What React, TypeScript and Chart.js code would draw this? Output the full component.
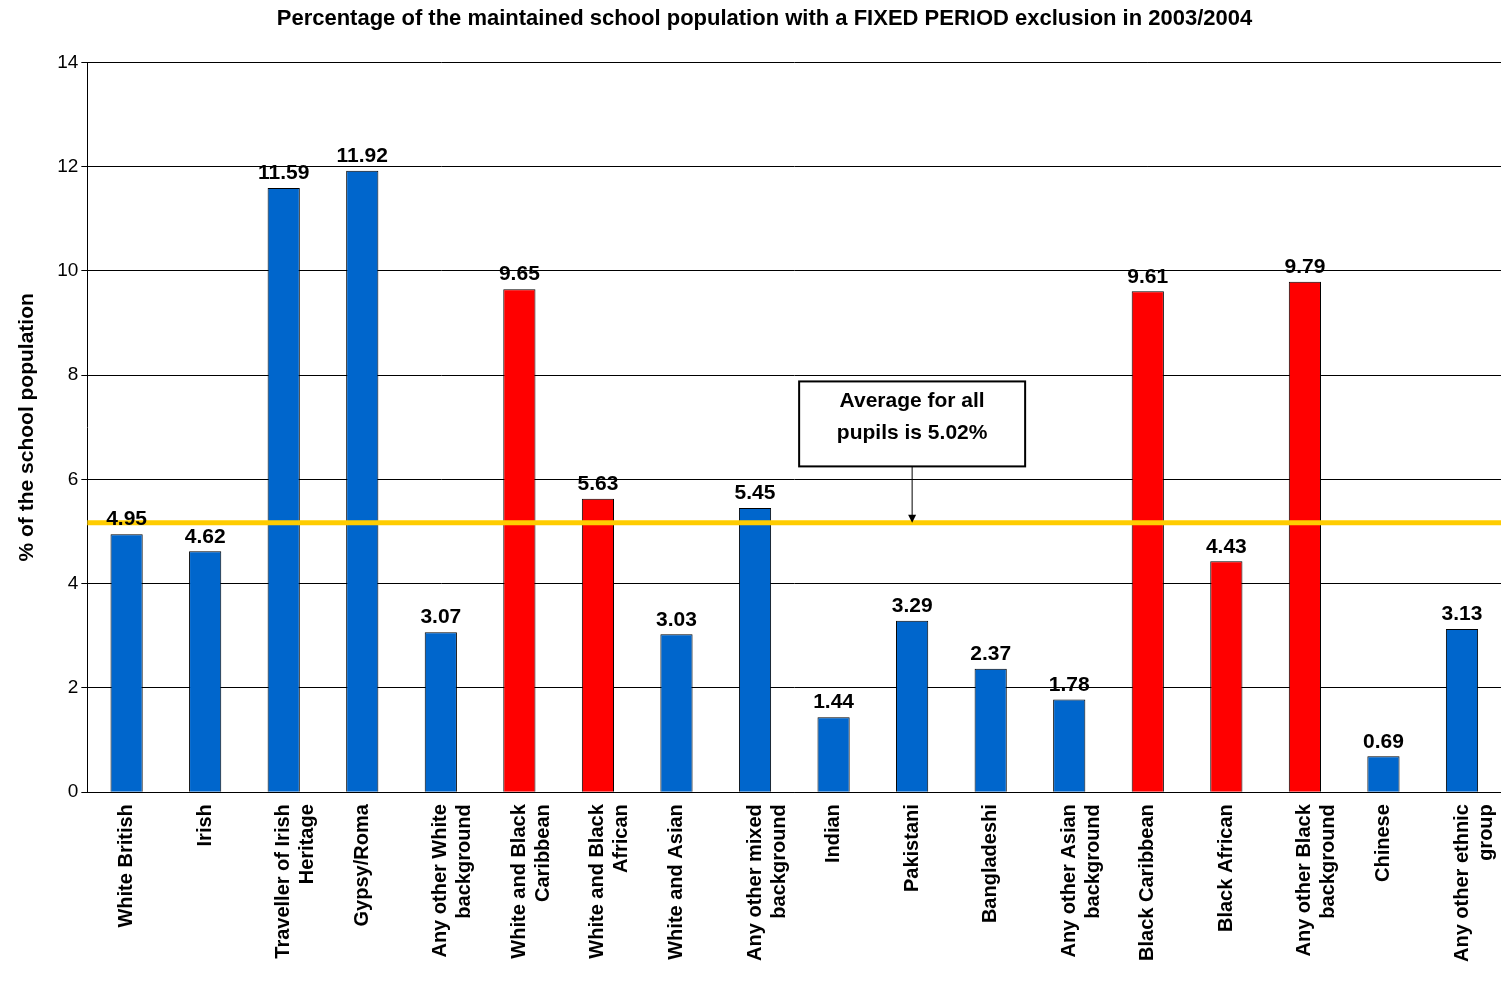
import { useEffect, useRef } from "react";
import { Chart, registerables } from "chart.js";

Chart.register(...registerables);

const categories: (string | string[])[] = [
  "White British",
  "Irish",
  ["Traveller of Irish", "Heritage"],
  "Gypsy/Roma",
  ["Any other White", "background"],
  ["White and Black", "Caribbean"],
  ["White and Black", "African"],
  "White and Asian",
  ["Any other mixed", "background"],
  "Indian",
  "Pakistani",
  "Bangladeshi",
  ["Any other Asian", "background"],
  "Black Caribbean",
  "Black African",
  ["Any other Black", "background"],
  "Chinese",
  ["Any other ethnic", "group"],
];
const values = [4.95, 4.62, 11.59, 11.92, 3.07, 9.65, 5.63, 3.03, 5.45, 1.44, 3.29, 2.37, 1.78, 9.61, 4.43, 9.79, 0.69, 3.13];
const highlighted = [5, 6, 13, 14, 15];
const averageLine = 5.17;
const noteLines = ["Average for all", "pupils is 5.02%"];

const FONT = "Arial, 'Liberation Sans', sans-serif";

const overlay = {
  id: "overlay",
  afterDatasetsDraw(chart: Chart) {
    const { ctx, chartArea, scales } = chart;
    const x = scales.x, y = scales.y;
    ctx.save();
    // average line
    const ly = y.getPixelForValue(averageLine);
    ctx.strokeStyle = "#FFCC00";
    ctx.lineWidth = 5;
    ctx.beginPath();
    ctx.moveTo(chartArea.left, ly);
    ctx.lineTo(chartArea.right, ly);
    ctx.stroke();
    // value labels
    ctx.fillStyle = "#000";
    ctx.font = `bold 21px ${FONT}`;
    ctx.textAlign = "center";
    ctx.textBaseline = "bottom";
    const meta = chart.getDatasetMeta(0);
    meta.data.forEach((bar: any, i: number) => {
      ctx.fillText(values[i].toFixed(2), bar.x, bar.y - 4);
    });
    // note box
    const cx = x.getPixelForValue(10);
    const top = y.getPixelForValue(7.88);
    const bottom = y.getPixelForValue(6.25);
    const w = 226;
    ctx.fillStyle = "#fff";
    ctx.fillRect(cx - w / 2, top, w, bottom - top);
    ctx.strokeStyle = "#000";
    ctx.lineWidth = 2;
    ctx.strokeRect(cx - w / 2, top, w, bottom - top);
    ctx.fillStyle = "#000";
    ctx.textBaseline = "middle";
    ctx.fillText(noteLines[0], cx, top + 20);
    ctx.fillText(noteLines[1], cx, top + 52);
    // arrow
    ctx.lineWidth = 1;
    ctx.beginPath();
    ctx.moveTo(cx, bottom);
    ctx.lineTo(cx, ly - 3);
    ctx.stroke();
    ctx.beginPath();
    ctx.moveTo(cx, ly);
    ctx.lineTo(cx - 4, ly - 8);
    ctx.lineTo(cx + 4, ly - 8);
    ctx.closePath();
    ctx.fill();
    ctx.restore();
  },
};

export default function App() {
  const ref = useRef<HTMLCanvasElement>(null);

  useEffect(() => {
    document.body.style.margin = "0";
    document.body.style.overflow = "hidden";
    if (!ref.current) return;
    const chart = new Chart(ref.current, {
      type: "bar",
      data: {
        labels: categories,
        datasets: [
          {
            data: values,
            backgroundColor: values.map((_, i) => (highlighted.includes(i) ? "#FF0000" : "#0066CC")),
            borderColor: "#000",
            borderWidth: 1,
            categoryPercentage: 1,
            barPercentage: 0.41,
          },
        ],
      },
      options: {
        animation: false,
        responsive: false,
        layout: { padding: { top: 0, right: 0, left: 15, bottom: 17 } },
        plugins: {
          legend: { display: false },
          tooltip: { enabled: false },
          title: {
            display: true,
            text: "Percentage of the maintained school population with a FIXED PERIOD exclusion in 2003/2004",
            color: "#000",
            font: { family: FONT, size: 22, weight: "bold" },
            padding: { top: 6, bottom: 30 },
            align: "center",
          },
        },
        scales: {
          x: {
            grid: { display: false, drawTicks: true },
            border: { color: "#000" },
            ticks: {
              color: "#000",
              font: { family: FONT, size: 20, weight: "bold" },
              maxRotation: 90,
              minRotation: 90,
              autoSkip: false,
              padding: 4,
            },
          },
          y: {
            min: 0,
            max: 14,
            ticks: { stepSize: 2, color: "#000", font: { family: FONT, size: 19 } },
            grid: { color: "#000", tickLength: 6 },
            border: { color: "#000" },
            title: {
              display: true,
              text: "% of the school population",
              color: "#000",
              font: { family: FONT, size: 21, weight: "bold" },
              padding: { top: 0, bottom: 14 },
            },
          },
        },
      },
      plugins: [overlay],
    });
    return () => chart.destroy();
  }, []);

  return (
    <div style={{ width: 1501, height: 983, overflow: "hidden" }}>
      <canvas ref={ref} width={1514} height={983} />
    </div>
  );
}
